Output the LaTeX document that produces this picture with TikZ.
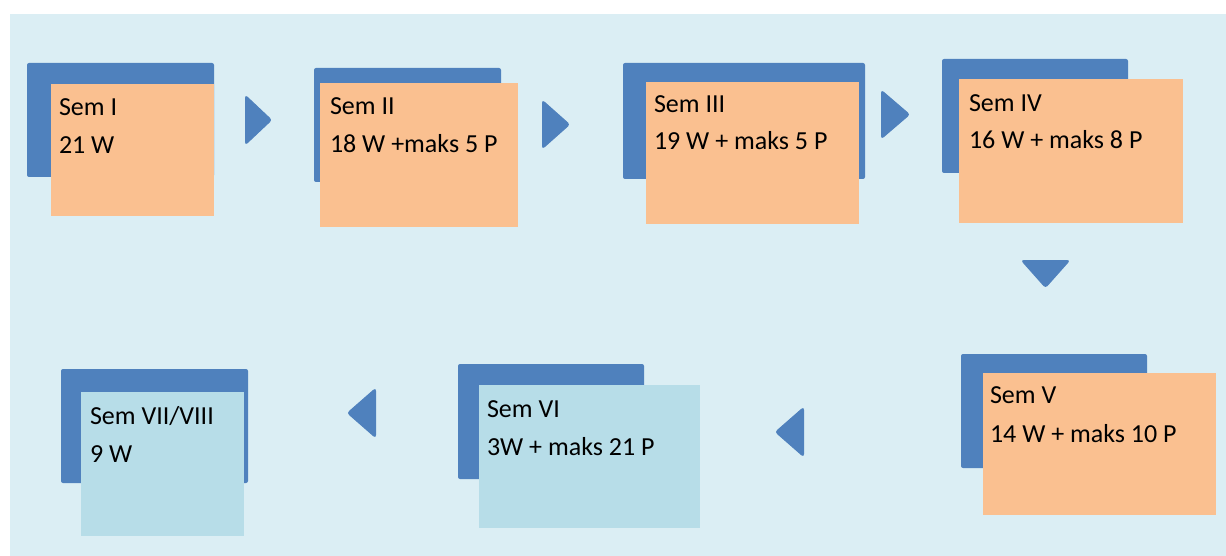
\documentclass[tikz,border=0pt]{standalone}
\usepackage{fontspec}
\setmainfont{Carlito}
\definecolor{cardblue}{HTML}{4F81BD}
\definecolor{cardorange}{HTML}{FAC090}
\definecolor{cardlight}{HTML}{B7DDE8}
\definecolor{bgblue}{HTML}{DBEEF4}
\tikzset{
  back/.style={fill=cardblue, draw=none, rounded corners=2pt, inner sep=0pt, outer sep=0pt, anchor=north west},
  front/.style={draw=none, inner sep=0pt, outer sep=0pt, anchor=north west},
  txt/.style={inner sep=0pt, outer sep=0pt, anchor=base west, font=\fontsize{26}{31}\selectfont, text=black},
  chevron/.style={fill=cardblue, draw=cardblue, line width=1pt, rounded corners=2.5pt}
}
\begin{document}
\begin{tikzpicture}[x=1pt,y=-1pt]
\useasboundingbox (0,0) rectangle (1226,556);
\fill[bgblue] (10,14) rectangle (1226,556);

% Sem I
\node[back, minimum width=187pt, minimum height=114pt] (b1) at (27,63) {};
\node[front, fill=cardorange, minimum width=163pt, minimum height=132pt] (f1) at (51,84) {};
\node[txt] (t1a) at (59,116) {Sem I};
\node[txt] (t1b) at (59,154) {21 W};

% Sem II
\node[back, minimum width=187pt, minimum height=114pt] (b2) at (314,68) {};
\node[front, fill=cardorange, minimum width=198pt, minimum height=144pt] (f2) at (320,83) {};
\node[txt] (t2a) at (330,115) {Sem II};
\node[txt] (t2b) at (330,153) {18 W +maks 5 P};

% Sem III
\node[back, minimum width=242pt, minimum height=116pt] (b3) at (623,63) {};
\node[front, fill=cardorange, minimum width=213pt, minimum height=142pt] (f3) at (646,82) {};
\node[txt] (t3a) at (654,113) {Sem III};
\node[txt] (t3b) at (654,150) {19 W + maks 5 P};

% Sem IV
\node[back, minimum width=186pt, minimum height=114pt] (b4) at (942,59) {};
\node[front, fill=cardorange, minimum width=224pt, minimum height=144pt] (f4) at (959,79) {};
\node[txt] (t4a) at (969,112) {Sem IV};
\node[txt] (t4b) at (969,149) {16 W + maks 8 P};

% Sem V
\node[back, minimum width=186pt, minimum height=114pt] (b5) at (961,354) {};
\node[front, fill=cardorange, minimum width=233pt, minimum height=142pt] (f5) at (983,373) {};
\node[txt] (t5a) at (990,403) {Sem V};
\node[txt] (t5b) at (990,442) {14 W + maks 10 P};

% Sem VI
\node[back, minimum width=186pt, minimum height=115pt] (b6) at (458,364) {};
\node[front, fill=cardlight, minimum width=221pt, minimum height=143pt] (f6) at (479,385) {};
\node[txt] (t6a) at (487,417) {Sem VI};
\node[txt] (t6b) at (487,455) {3W + maks 21 P};

% Sem VII/VIII
\node[back, minimum width=187pt, minimum height=114pt] (b7) at (61,369) {};
\node[front, fill=cardlight, minimum width=163pt, minimum height=144pt] (f7) at (81,392) {};
\node[txt] (t7a) at (90,424) {Sem VII/VIII};
\node[txt] (t7b) at (90,462) {9 W};

% chevrons
\draw[chevron] (245.5,95.5) -- (271.5,120) -- (245.5,144.5) -- cycle;
\draw[chevron] (542.5,100.5) -- (569.5,124.5) -- (542.5,148.5) -- cycle;
\draw[chevron] (881.5,90.5) -- (909.5,114.5) -- (881.5,138.5) -- cycle;
\draw[chevron] (1021.5,260.5) -- (1069.5,260.5) -- (1045.5,287.5) -- cycle;
\draw[chevron] (803.5,407.5) -- (775.5,432) -- (803.5,456.5) -- cycle;
\draw[chevron] (375.5,388.5) -- (347.5,413) -- (375.5,437.5) -- cycle;
\end{tikzpicture}
\end{document}
